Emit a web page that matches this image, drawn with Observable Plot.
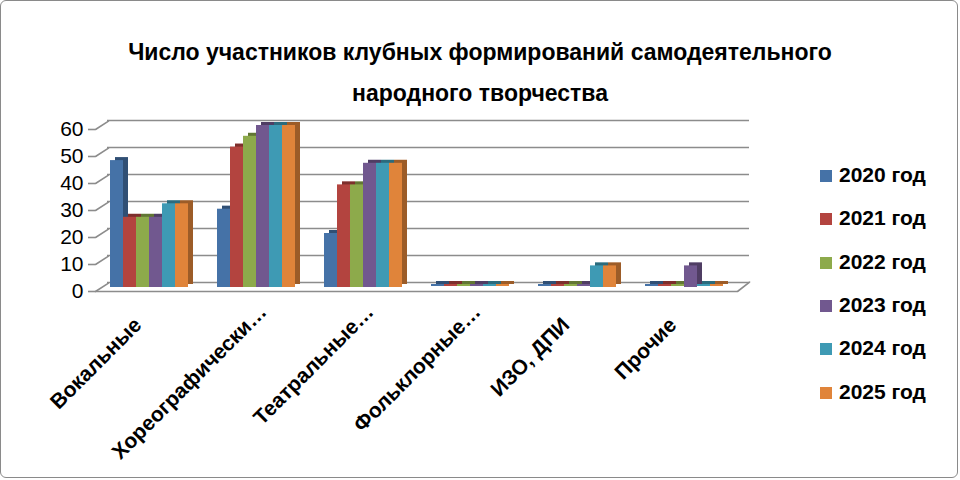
<!DOCTYPE html>
<html>
<head>
<meta charset="utf-8">
<script src="https://cdn.jsdelivr.net/npm/d3@7"></script>
<script src="https://cdn.jsdelivr.net/npm/@observablehq/plot@0.6"></script>
<style>
  html, body { margin: 0; padding: 0; background: #fff; }
  #wrap { position: relative; width: 960px; height: 480px; overflow: hidden; font-family: "Liberation Sans", Arial, sans-serif; }
  #border { position: absolute; left: 0; top: 0; width: 956px; height: 476px; border: 1.5px solid #8a8a8a; border-radius: 6px; }
  #title { position: absolute; left: 0; width: 960px; top: 32px; text-align: center; font-weight: bold; font-size: 23px; line-height: 41px; color: #000; }
  #chart { position: absolute; left: 0; top: 0; }
  #legend { position: absolute; left: 820px; top: 0; }
  .li { position: absolute; left: 0; white-space: nowrap; font-weight: bold; font-size: 21px; height: 24px; line-height: 24px; }
  .sw { display: inline-block; width: 12px; height: 12px; margin-right: 7px; vertical-align: 0px; }
</style>
</head>
<body>
<div id="wrap">
  <div id="border"></div>
  <div id="title">Число участников клубных формирований самодеятельного<br>народного творчества</div>
  <div id="chart"></div>
  <div id="legend"></div>
</div>
<script>
const categories = ["Вокальные", "Хореографически…", "Театральные…", "Фольклорные…", "ИЗО, ДПИ", "Прочие"];
const years = ["2020 год", "2021 год", "2022 год", "2023 год", "2024 год", "2025 год"];
const v2020 = [47, 29, 20, 0, 0, 0];
const v2021 = [26, 52, 38, 0, 0, 0];
const v2022 = [26, 56, 38, 0, 0, 0];
const v2023 = [26, 60, 46, 0, 0, 8];
const v2024 = [31, 60, 46, 0, 8, 0];
const v2025 = [31, 60, 46, 0, 8, 0];
const yTicks = [0, 10, 20, 30, 40, 50, 60];
const colors = ["#4572A7", "#B3443F", "#8DAA4B", "#71588F", "#3E9AB4", "#E0843A"];

const series = [v2020, v2021, v2022, v2023, v2024, v2025];
const data = [];
categories.forEach((c, i) => years.forEach((y, j) => data.push({category: c, year: y, value: series[j][i]})));
const zeros = data.filter(d => d.value === 0);
const longLabels = categories.filter(c => c.endsWith("…"));
const shortLabels = categories.filter(c => !c.endsWith("…"));

const seg = {draw(context, l) { context.moveTo(0, 0); context.lineTo(0, -l); }};
const gridColor = "#8c8c8c";

const chart = Plot.plot({
  width: 960,
  height: 480,
  marginTop: 125,
  marginBottom: 193,
  marginLeft: 95,
  marginRight: 223,
  style: {fontFamily: "'Liberation Sans', Arial, sans-serif", background: "transparent", color: "#000"},
  fx: {domain: categories, padding: 0, axis: null},
  x: {domain: years, paddingInner: 0, paddingOuter: 0.95, align: 0.5, axis: null},
  y: {domain: [0, 60], axis: null},
  color: {domain: years, range: colors},
  marks: [
    Plot.ruleY(yTicks, {dx: 12, dy: -5, stroke: gridColor, strokeWidth: 1.6}),
    Plot.vector(yTicks, {y: d => d, frameAnchor: "left", facetAnchor: "left", dy: 4, length: 15.5, rotate: 57, anchor: "start", shape: seg, stroke: gridColor, strokeWidth: 1.6}),
    Plot.ruleY([0], {dy: 4, stroke: gridColor, strokeWidth: 1.6}),
    Plot.vector([0], {y: d => d, frameAnchor: "right", facetAnchor: "right", dy: 4, length: 15.3, rotate: 52, anchor: "start", shape: seg, stroke: gridColor, strokeWidth: 1.6}),
    Plot.axisY({ticks: yTicks, tickSize: 7, tickPadding: 5, dy: 4, fontSize: 21, label: null, line: true, stroke: gridColor, strokeWidth: 1.6, fill: "#000"}),
    Plot.axisFx({ticks: longLabels, anchor: "bottom", tickSize: 0, tickPadding: 21, tickRotate: -45, fontSize: 21, fontWeight: "bold", label: null, dx: 7, fill: "#000"}),
    Plot.axisFx({ticks: shortLabels, anchor: "bottom", tickSize: 0, tickPadding: 34, tickRotate: -45, fontSize: 21, fontWeight: "bold", label: null, dx: -11, fill: "#000"}),
    Plot.barY(data, {fx: "category", x: "year", y: "value", fill: "year", dx: 5, dy: -3}),
    Plot.barY(data, {fx: "category", x: "year", y: "value", fill: "#000", fillOpacity: 0.3, dx: 5, dy: -3}),
    Plot.barY(zeros, {fx: "category", x: "year", y1: "value", y2: "value", insetTop: -3, fill: "year", dx: 5, dy: -3}),
    Plot.barY(zeros, {fx: "category", x: "year", y1: "value", y2: "value", insetTop: -3, fill: "#000", fillOpacity: 0.3, dx: 5, dy: -3}),
    Plot.barY(data, {fx: "category", x: "year", y: "value", fill: "year"}),
    Plot.barY(zeros, {fx: "category", x: "year", y1: "value", y2: "value", insetTop: -2, fill: "year", dy: -1})
  ]
});
document.getElementById("chart").appendChild(chart);

const legend = document.getElementById("legend");
const rowY = [175, 218, 262, 305, 348, 392];
years.forEach((y, i) => {
  const row = document.createElement("div");
  row.className = "li";
  row.style.top = (rowY[i] - 12) + "px";
  const sw = document.createElement("span");
  sw.className = "sw";
  sw.style.background = colors[i];
  row.appendChild(sw);
  row.appendChild(document.createTextNode(y));
  legend.appendChild(row);
});
</script>
</body>
</html>
